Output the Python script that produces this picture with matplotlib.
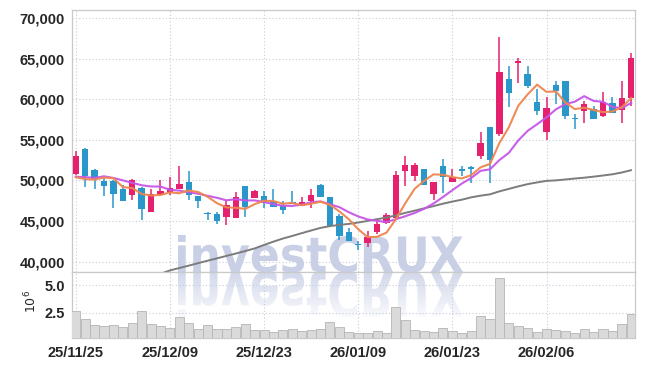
import numpy as np
import pandas as pd
import matplotlib
matplotlib.use("Agg")
import matplotlib.pyplot as plt
from matplotlib.textpath import TextPath
from matplotlib.font_manager import FontProperties
from matplotlib.patches import PathPatch
from matplotlib.transforms import Affine2D
from matplotlib.ticker import FuncFormatter, FixedLocator

# ---------------- data ----------------
dates = ["25/11/25", "25/11/26", "25/11/27", "25/11/28", "25/12/01", "25/12/02", "25/12/03",
         "25/12/04", "25/12/05", "25/12/08", "25/12/09", "25/12/10", "25/12/11", "25/12/12",
         "25/12/15", "25/12/16", "25/12/17", "25/12/18", "25/12/19", "25/12/22", "25/12/23",
         "25/12/24", "25/12/26", "25/12/29", "25/12/30", "26/01/02", "26/01/05", "26/01/06",
         "26/01/07", "26/01/08", "26/01/09", "26/01/12", "26/01/13", "26/01/14", "26/01/15",
         "26/01/16", "26/01/19", "26/01/20", "26/01/21", "26/01/22", "26/01/23", "26/01/26",
         "26/01/27", "26/01/28", "26/01/29", "26/01/30", "26/02/02", "26/02/03", "26/02/04",
         "26/02/05", "26/02/06", "26/02/09", "26/02/10", "26/02/11", "26/02/12", "26/02/13",
         "26/02/19", "26/02/20", "26/02/23", "26/02/24"]

opens = [50750, 53900, 51300, 49950, 49950, 48900, 48150, 49100, 46050, 48200,
         48600, 48900, 49850, 48100, 45850, 45850, 45450, 45400, 49250, 47800,
         48100, 47450, 46900, 47300, 46850, 47450, 49450, 47950, 45600, 43650,
         42100, 42250, 43650, 44800, 45350, 51200, 50600, 51400, 48300, 51800,
         49850, 51400, 51600, 53050, 56550, 55750, 62450, 64400, 63150, 59700,
         56000, 61800, 62250, 57600, 58600, 58750, 57950, 59500, 58700, 60150]
highs = [53650, 54000, 51400, 50350, 50050, 49450, 50150, 49200, 48900, 50000,
         50450, 51800, 51100, 48100, 46150, 46100, 47600, 48550, 49250, 48850,
         48650, 48900, 47500, 48650, 47900, 49000, 49550, 48000, 45850, 44150,
         42550, 43750, 45150, 45950, 51100, 53050, 52100, 51400, 49850, 52650,
         51400, 51800, 51800, 55900, 56550, 67650, 64100, 65050, 64100, 61250,
         60300, 62250, 62250, 58150, 59800, 59150, 60900, 60300, 62200, 65700]
lows = [50700, 49150, 48900, 48100, 46550, 47500, 47600, 45150, 46050, 48100,
        48150, 48900, 47600, 46550, 45150, 44600, 44450, 45400, 45500, 47800,
        46550, 46700, 45850, 47100, 46800, 46650, 47900, 44400, 42600, 42500,
        41400, 41750, 43450, 44600, 45300, 49300, 49950, 49450, 47600, 48400,
        49850, 50550, 49650, 52600, 49650, 55500, 59000, 61950, 61400, 58050,
        54950, 59350, 57550, 56300, 57100, 57500, 57800, 58250, 57100, 59150]
closes = [53000, 50600, 50150, 49250, 48350, 47500, 50050, 46500, 48300, 48700,
          49050, 49550, 48150, 47400, 45800, 45050, 46950, 47950, 46700, 48700,
          47200, 46700, 46350, 47150, 47300, 48150, 47900, 44400, 43150, 42500,
          42000, 43000, 44600, 45750, 50700, 51900, 51900, 49450, 49750, 50450,
          50450, 51100, 51450, 54600, 52550, 63350, 60750, 64700, 61600, 58550,
          58900, 61000, 57900, 57550, 59400, 57500, 59650, 58350, 60150, 65050]
volumes_m = [2.65, 1.90, 1.39, 1.27, 1.39, 1.18, 1.57, 2.65, 1.48, 1.30,
             1.09, 2.11, 1.57, 1.03, 1.39, 1.03, 1.03, 1.21, 1.48, 0.94,
             0.94, 0.76, 0.94, 1.03, 0.85, 0.94, 1.03, 1.68, 1.24, 0.76,
             0.64, 0.64, 0.85, 0.67, 2.99, 1.84, 0.91, 0.82, 0.76, 1.09,
             0.85, 0.67, 0.85, 2.18, 1.93, 5.63, 1.57, 1.30, 1.09, 0.76,
             1.03, 0.94, 0.85, 0.67, 1.03, 0.76, 1.03, 0.85, 1.48, 2.38]
# moving-average values before enough in-window closes exist
ma5_head = [50400, 50150, 50100, 50350]
ma10_head = [50450, 50400, 50300, 50500, 50300, 50000, 49700, 49400, 49250]
# long moving average; NaN = below visible range
ma_long = [np.nan] * 9 + [38500, 38910, 39210, 39500, 39810, 40110, 40400, 40700, 40990,
           41300, 41620, 42050, 42460, 42840, 43160, 43500, 43830, 44150, 44370,
           44520, 44640, 44810, 45010, 45220, 45420, 45690, 46000, 46270, 46560,
           46830, 47130, 47390, 47620, 47910, 48120, 48280, 48650, 48950, 49260,
           49540, 49750, 49940, 50000, 50110, 50230, 50330, 50460, 50600, 50750,
           50970, 51260]
price_ticks = [40000, 45000, 50000, 55000, 60000, 65000, 70000]
vol_ticks = [2.5, 5.0]
date_tick_idx = [0, 10, 20, 30, 40, 50]

# ---------------- styling ----------------
UP = "#e5206d"
DOWN = "#2a97cb"
MA5C = "#ee8650"
MA10C = "#c656e8"
MALC = "#7c7c7c"
GRID = "#c8cbd9"
TXT = "#262626"
WM = "#c9d0e6"
SPINE = "#c9c9c9"

plt.rcParams["font.family"] = ["Liberation Sans Narrow", "Liberation Sans", "DejaVu Sans"]

W, H = 645, 366
fig = plt.figure(figsize=(W / 100, H / 100), dpi=100)
L, R = 72, 635
T, MID, B = 10, 271.5, 337.5
ax = fig.add_axes([L / W, 1 - MID / H, (R - L) / W, (MID - T) / H])
axv = fig.add_axes([L / W, 1 - B / H, (R - L) / W, (B - MID) / H], sharex=ax)

x = np.arange(len(closes))
o = np.array(opens, float); c = np.array(closes, float)
h = np.array(highs, float); lo = np.array(lows, float)
up = c >= o
colors = np.where(up, UP, DOWN)

# wicks + bodies
ax.vlines(x, lo, h, colors=colors, linewidth=1.1, zorder=3)
body_b = np.minimum(o, c)
body_h = np.maximum(np.abs(c - o), 130)
ax.bar(x, body_h, bottom=body_b, width=0.68, color=colors, linewidth=0, zorder=4)

# moving averages
cs = pd.Series(c)
ma5 = cs.rolling(5).mean().to_numpy()
ma5[:4] = ma5_head
ma10 = cs.rolling(10).mean().to_numpy()
ma10[:9] = ma10_head
ax.plot(x, ma_long, color=MALC, lw=1.4, zorder=5, solid_capstyle="round")
ax.plot(x, ma10, color=MA10C, lw=1.5, zorder=6, alpha=0.95)
ax.plot(x, ma5, color=MA5C, lw=1.5, zorder=7, alpha=0.95)

# volume
axv.bar(x, volumes_m, width=0.96, color="#dadada", edgecolor="#b5b5b5", linewidth=0.6, zorder=3)

# grids / axes
for a in (ax, axv):
    a.grid(True, color=GRID, linestyle=(0, (1, 2)), linewidth=0.8)
    a.set_axisbelow(True)
    a.tick_params(length=0, colors=TXT, labelsize=10.5)
    for lab in a.get_xticklabels() + a.get_yticklabels():
        lab.set_fontweight("bold")
    for s in a.spines.values():
        s.set_color(SPINE)
        s.set_linewidth(0.9)

ax.yaxis.set_major_locator(FixedLocator(price_ticks))
ax.yaxis.set_major_formatter(FuncFormatter(lambda v, p: f"{int(v):,}"))
ax.tick_params(axis="y", pad=5)
ax.tick_params(axis="x", labelbottom=False)
axv.yaxis.set_major_locator(FixedLocator(vol_ticks))
axv.yaxis.set_major_formatter(FuncFormatter(lambda v, p: f"{v:.1f}"))
axv.tick_params(axis="y", pad=5)
axv.xaxis.set_major_locator(FixedLocator(date_tick_idx))
axv.xaxis.set_major_formatter(FuncFormatter(lambda v, p: dates[int(round(v))] if 0 <= int(round(v)) < len(dates) else ""))
axv.tick_params(axis="x", pad=6)
plt.setp(ax.get_yticklabels() + axv.get_yticklabels() + axv.get_xticklabels(), fontweight="bold")

fig.text(31 / W, 1 - 301 / H, r"$10^6$", rotation=90, ha="center", va="center",
         fontsize=9, color=TXT, family="DejaVu Sans")

# watermark "investCRUX" with reflection
fp = FontProperties(family=["Liberation Sans Narrow", "DejaVu Sans"], weight="bold")
tp = TextPath((0, 0), "investCRUX", size=100, prop=fp)
ext = tp.get_extents()
wm_left, wm_width, wm_h, base = 178, 285, 37, H - 272
sx = wm_width / ext.width
sy = wm_h / ext.y1
t_up = Affine2D().translate(-ext.x0, 0).scale(sx, sy).translate(wm_left, base)
ax.add_artist(PathPatch(tp, transform=t_up, facecolor=WM, edgecolor="none", zorder=1))
t_dn = Affine2D().translate(-ext.x0, 0).scale(sx, -sy * 1.25).translate(wm_left, base)
clip = PathPatch(tp, transform=t_dn, facecolor="none", edgecolor="none")
rgb = matplotlib.colors.to_rgb(WM)
grad = np.zeros((80, 2, 4))
grad[..., :3] = rgb
tt = np.linspace(0, 1, 80)
grad[..., 3] = np.clip(0.85 * (1 - tt / 0.8), 0, 1)[:, None]
im = axv.imshow(grad, extent=[0, 1, 0, 1], transform=axv.transAxes, aspect="auto",
                origin="upper", zorder=1, interpolation="bilinear")
im.set_clip_path(clip)

ax.set_xlim(-0.4, 59.4)
ax.set_ylim(38780, 70980)
axv.set_ylim(0.26, 6.22)
axv.set_xlim(-0.4, 59.4)

fig.savefig("out.png", dpi=100)
